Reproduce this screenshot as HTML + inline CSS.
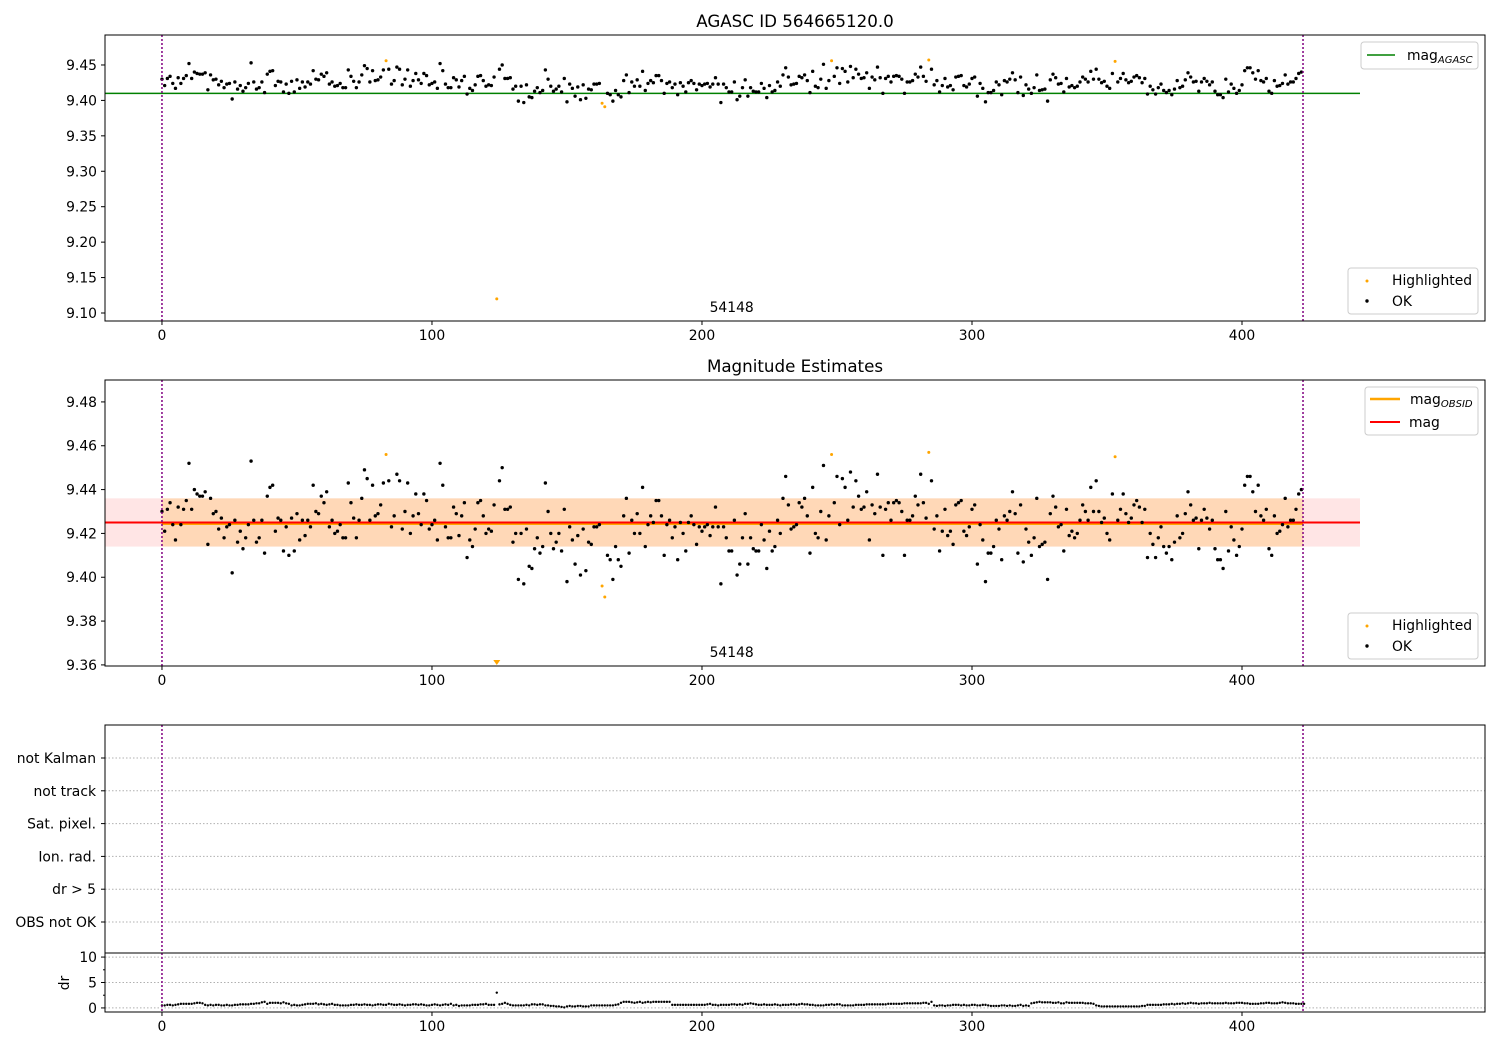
<!DOCTYPE html>
<html><head><meta charset="utf-8">
<style>
html,body{margin:0;padding:0;background:#fff;}
svg{display:block;font-family:"DejaVu Sans","Liberation Sans",sans-serif;}
</style></head>
<body>
<svg id="chart" width="1500" height="1050" viewBox="0 0 1500 1050" xmlns="http://www.w3.org/2000/svg">
<rect x="0" y="0" width="1500" height="1050" fill="#fff"/>
</svg>
<script>
const mags = [9.430,9.421,9.431,9.434,9.424,9.417,9.432,9.424,9.431,9.435,
9.452,9.431,9.440,9.438,9.437,9.437,9.439,9.415,9.436,9.429,
9.430,9.422,9.427,9.418,9.423,9.424,9.402,9.426,9.416,9.421,
9.413,9.418,9.424,9.453,9.426,9.416,9.418,9.426,9.411,9.437,
9.441,9.442,9.421,9.427,9.426,9.412,9.423,9.410,9.427,9.412,
9.429,9.417,9.426,9.419,9.426,9.423,9.442,9.430,9.429,9.437,
9.434,9.439,9.423,9.426,9.420,9.421,9.424,9.418,9.418,9.443,
9.434,9.427,9.418,9.426,9.436,9.449,9.445,9.426,9.442,9.428,
9.429,9.433,9.443,9.456,9.444,9.423,9.428,9.447,9.444,9.422,
9.430,9.443,9.420,9.428,9.438,9.429,9.424,9.438,9.435,9.422,
9.424,9.426,9.417,9.452,9.442,9.423,9.418,9.418,9.432,9.429,
9.419,9.428,9.434,9.409,9.417,9.414,9.422,9.434,9.435,9.428,
9.420,9.422,9.421,9.433,9.120,9.444,9.450,9.431,9.431,9.432,
9.416,9.420,9.399,9.420,9.397,9.422,9.405,9.404,9.413,9.418,
9.411,9.414,9.443,9.430,9.420,9.413,9.416,9.420,9.412,9.431,
9.398,9.423,9.417,9.406,9.419,9.401,9.422,9.403,9.416,9.415,
9.423,9.423,9.424,9.396,9.391,9.410,9.408,9.399,9.414,9.408,
9.405,9.428,9.436,9.411,9.426,9.420,9.429,9.420,9.441,9.414,
9.424,9.428,9.425,9.435,9.435,9.428,9.410,9.424,9.426,9.418,
9.423,9.408,9.425,9.420,9.412,9.425,9.428,9.424,9.415,9.423,
9.421,9.423,9.424,9.419,9.423,9.432,9.423,9.397,9.423,9.418,
9.412,9.412,9.426,9.401,9.406,9.418,9.429,9.406,9.418,9.413,
9.412,9.412,9.424,9.417,9.404,9.421,9.412,9.414,9.426,9.420,
9.436,9.446,9.433,9.422,9.423,9.424,9.434,9.432,9.436,9.428,
9.411,9.441,9.420,9.418,9.430,9.451,9.417,9.428,9.456,9.434,
9.446,9.424,9.445,9.441,9.426,9.448,9.432,9.444,9.437,9.431,
9.432,9.439,9.417,9.433,9.429,9.447,9.432,9.410,9.431,9.434,
9.426,9.434,9.435,9.434,9.430,9.410,9.426,9.426,9.428,9.437,
9.433,9.447,9.434,9.427,9.457,9.444,9.422,9.428,9.412,9.421,
9.431,9.419,9.421,9.415,9.433,9.434,9.435,9.421,9.419,9.423,
9.431,9.433,9.406,9.424,9.417,9.398,9.411,9.411,9.414,9.426,
9.422,9.408,9.428,9.426,9.430,9.439,9.429,9.411,9.433,9.407,
9.422,9.416,9.410,9.418,9.436,9.414,9.415,9.416,9.399,9.429,
9.437,9.432,9.423,9.424,9.412,9.431,9.419,9.421,9.418,9.420,
9.426,9.433,9.430,9.426,9.441,9.430,9.444,9.430,9.425,9.427,
9.420,9.417,9.438,9.455,9.426,9.431,9.438,9.429,9.425,9.427,
9.433,9.435,9.432,9.425,9.431,9.409,9.420,9.415,9.409,9.418,
9.423,9.414,9.411,9.414,9.408,9.416,9.428,9.418,9.420,9.429,
9.439,9.433,9.426,9.427,9.413,9.426,9.431,9.427,9.422,9.426,
9.413,9.408,9.408,9.404,9.430,9.412,9.423,9.417,9.410,9.414,
9.422,9.442,9.446,9.446,9.439,9.430,9.442,9.428,9.426,9.431,
9.413,9.410,9.428,9.420,9.421,9.424,9.436,9.423,9.426,9.426,
9.431,9.438,9.440];
const highlighted = [83,124,163,164,248,284,353];
const drValues = [0.5,0.5,0.6,0.6,0.5,0.6,0.7,0.8,0.8,0.8,0.8,0.8,0.9,1.0,1.0,0.9,0.6,
0.5,0.6,0.5,0.6,0.6,0.5,0.5,0.6,0.5,0.5,0.6,0.6,0.7,0.7,0.7,0.7,0.8,0.8,0.9,0.9,1.1,1.2,0.8,
1.0,1.0,1.0,1.0,0.9,1.1,0.9,0.8,
0.5,0.6,0.5,0.5,0.6,0.7,0.8,0.8,0.8,0.9,0.7,0.8,0.7,0.6,0.7,0.8,0.6,0.6,0.5,0.5,0.5,0.5,0.6,0.6,0.7,0.6,0.6,0.7,0.6,0.6,0.5,0.6,0.7,0.7,0.6,0.6,0.8,0.7,0.6,0.6,0.7,0.6,0.5,0.6,0.6,0.7,0.7,0.6,0.7,0.6,0.5,0.5,0.6,0.7,0.6,0.5,0.6,0.7,0.6,0.8,0.5,0.6,
0.4,0.5,0.5,0.5,0.5,0.6,0.6,0.6,0.7,0.7,0.8,0.6,0.6,0.6,
3.0,
0.7,0.8,1.0,0.8,0.6,0.5,0.5,0.5,0.5,0.5,0.6,0.5,0.7,0.7,0.6,0.7,0.7,0.5,0.5,0.4,0.4,0.3,0.3,0.2,0.1,0.3,0.4,0.3,0.3,0.4,0.4,0.3,0.3,0.3,0.5,0.5,0.5,0.5,0.5,0.5,0.5,0.5,0.5,0.6,0.7,
1.0,1.2,1.2,1.2,1.1,1.0,1.1,1.2,1.0,1.1,1.2,1.1,1.2,1.2,1.2,1.2,1.2,1.2,1.2,
0.6,0.6,0.6,0.6,0.6,0.6,0.6,0.6,0.6,0.6,0.6,0.6,0.6,0.7,0.8,0.6,0.6,0.5,0.6,0.6,0.6,0.6,0.7,0.7,0.6,0.7,0.6,0.8,0.8,0.9,0.8,0.7,0.6,0.6,0.7,0.6,0.6,0.6,0.7,0.6,0.5,0.6,0.6,0.6,0.7,0.7,0.6,
0.7,0.8,0.7,0.7,0.6,0.6,0.5,0.5,0.5,0.5,0.6,0.6,0.7,0.6,0.7,0.7,0.5,0.5,0.5,0.5,0.5,0.6,0.6,0.6,0.6,0.7,0.7,0.7,0.7,0.7,0.7,0.7,0.7,0.8,0.8,0.8,0.8,0.8,0.8,0.9,0.9,0.9,0.9,0.9,0.9,0.9,1.0,1.0,0.8,1.2,
0.5,0.4,0.5,0.5,0.4,0.5,0.5,0.6,0.6,0.6,0.5,0.6,0.5,0.5,0.6,0.6,0.5,0.5,0.6,0.6,0.5,0.4,0.4,0.4,0.4,0.5,0.5,0.4,0.5,0.4,0.4,0.5,0.6,0.4,0.5,0.4,
0.9,1.0,1.1,1.2,1.1,1.1,1.1,1.1,1.0,1.0,1.1,0.9,0.9,1.1,1.0,1.0,1.0,1.0,1.0,1.0,0.9,0.9,0.9,0.8,
0.5,0.4,0.3,0.3,0.3,0.3,0.3,0.3,0.3,0.3,0.3,0.3,0.3,0.3,0.3,0.3,0.3,0.4,0.4,
0.6,0.6,0.6,0.6,0.6,0.6,0.7,0.7,0.7,0.8,0.7,0.8,0.8,0.9,0.8,0.9,1.0,0.9,0.9,0.8,0.9,0.9,0.9,1.0,0.9,0.9,0.9,0.9,0.9,1.0,0.9,0.9,0.9,1.0,1.0,1.0,0.9,0.9,0.8,0.8,0.8,0.8,
0.9,0.9,1.0,1.0,0.9,0.9,0.9,1.0,1.1,1.0,0.9,0.9,0.9,0.8,0.8,0.8,0.8];
const xTicks = [0,100,200,300,400];
const y1Ticks = [9.10,9.15,9.20,9.25,9.30,9.35,9.40,9.45];
const y2Ticks = [9.36,9.38,9.40,9.42,9.44,9.46,9.48];
const flagLabels = ["not Kalman","not track","Sat. pixel.","Ion. rad.","dr > 5","OBS not OK"];
const drTicks = [0,5,10];
const agascMag = [9.41];
const meanMag = [9.425];
const magBand = [9.414, 9.436];
const obsidLabel = ["54148"];

const NS = "http://www.w3.org/2000/svg";
const svg = document.getElementById("chart");
const FS = 13.9;
function mk(tag, attrs, parent){
  const e = document.createElementNS(NS, tag);
  for (const k in attrs) e.setAttribute(k, attrs[k]);
  (parent||svg).appendChild(e);
  return e;
}
const X0 = 105, X1 = 1485, XMIN = -21.1, XMAX = 490;
function xs(v){ return X0 + (v - XMIN) / (XMAX - XMIN) * (X1 - X0); }
function yScale(top, bottom, vmin, vmax){ return v => bottom - (v - vmin) / (vmax - vmin) * (bottom - top); }
const P1 = {top:35,bottom:321}, P2 = {top:380,bottom:666}, P3 = {top:725,bottom:953}, P4 = {top:953,bottom:1012};
const y1 = yScale(P1.top, P1.bottom, 9.0887, 9.4923);
const y2 = yScale(P2.top, P2.bottom, 9.3595, 9.4900);
const y4 = yScale(P4.top, P4.bottom, -0.8, 10.8);
const nPts = mags.length;
const lastX = nPts - 0.4;

function txt(x, y, s, attrs, name){
  const t = mk("text", Object.assign({x:x, y:y, "font-size":FS, fill:"#000"}, attrs||{}));
  t.textContent = s;
  
  
  return t;
}
function frame(p, name){
  const r = mk("rect", {x:X0, y:p.top, width:X1-X0, height:p.bottom-p.top, fill:"none", stroke:"#000", "stroke-width":1});
  
  
}
function xAxis(p, labels, name){
  const g = mk("g", {});
  
  
  xTicks.forEach(v => {
    mk("line", {x1:xs(v), x2:xs(v), y1:p.bottom, y2:p.bottom+4, stroke:"#000"}, g);
    if (labels) {
      const t = mk("text", {x:xs(v), y:p.bottom+19, "font-size":FS, "text-anchor":"middle"}, g);
      t.textContent = v;
    }
  });
}
function yAxis(p, ticks, ys, fmt, name){
  const g = mk("g", {});
  
  
  ticks.forEach(v => {
    mk("line", {x1:X0-4, x2:X0, y1:ys(v), y2:ys(v), stroke:"#000"}, g);
    const t = mk("text", {x:X0-8, y:ys(v)+5, "font-size":FS, "text-anchor":"end"}, g);
    t.textContent = fmt(v);
  });
}
function vlines(p, name){
  [0, lastX].forEach(v => {
    const l = mk("line", {x1:xs(v), x2:xs(v), y1:p.top, y2:p.bottom, stroke:"#800080", "stroke-width":1.5, "stroke-dasharray":"2,2"});
    
    
  });
}
function points(ys, p, name){
  const g = mk("g", {});
  
  
  mags.forEach((m, i) => {
    const hl = highlighted.indexOf(i) >= 0;
    let y = ys(m);
    if (y > p.bottom) {
      const cx = xs(i);
      const tri = mk("polygon", {points:`${cx-3.5},${p.bottom-6} ${cx+3.5},${p.bottom-6} ${cx},${p.bottom-1}`, fill:"orange"}, g);
      
      
      return;
    }
    const c = mk("circle", {cx:xs(i), cy:y, r: hl ? 1.5 : 1.7, fill: hl ? "orange" : "#000"}, g);
    
    
  });
}
function legendBox(x, y, w, h, name){
  const r = mk("rect", {x:x, y:y, width:w, height:h, rx:3, fill:"#fff", "fill-opacity":0.8, stroke:"#ccc"});
  
  
}
function subLabel(x, y, main, sub, name){
  const t = mk("text", {x:x, y:y, "font-size":FS});
  
  
  t.textContent = main;
  const s = mk("tspan", {"font-size":10, "font-style":"italic", dy:3}, t);
  s.textContent = sub;
}

/* ---------- Panel 1 ---------- */
txt(795, 27, "AGASC ID 564665120.0", {"font-size":16.7, "text-anchor":"middle"}, "top-panel-title");
const gl = mk("line", {x1:X0, x2:1360, y1:y1(agascMag[0]), y2:y1(agascMag[0]), stroke:"green", "stroke-width":1.5});


points(y1, P1, "top-panel-points");
vlines(P1, "obsid-boundary-line");
txt(xs(211), P1.bottom-9, obsidLabel[0], {"text-anchor":"middle"}, "obsid-label");
frame(P1, "top-panel-frame");
xAxis(P1, true, "top-panel-x-axis");
yAxis(P1, y1Ticks, y1, v => v.toFixed(2), "top-panel-y-axis");
legendBox(1361, 42, 117, 27, "top-panel-line-legend");
mk("line", {x1:1367, x2:1395, y1:55, y2:55, stroke:"green", "stroke-width":1.5});
subLabel(1407, 60, "mag", "AGASC", "legend-entry-mag-agasc");
legendBox(1348, 268, 130, 46, "top-panel-points-legend");
mk("circle", {cx:1367, cy:281, r:1.5, fill:"orange"});
txt(1392, 285, "Highlighted", {}, "legend-entry-highlighted");
mk("circle", {cx:1367, cy:301, r:1.7, fill:"#000"});
txt(1392, 306, "OK", {}, "legend-entry-ok");

/* ---------- Panel 2 ---------- */
txt(795, 372, "Magnitude Estimates", {"font-size":16.7, "text-anchor":"middle"}, "middle-panel-title");
const pb = mk("rect", {x:X0, y:y2(magBand[1]), width:1360-X0, height:y2(magBand[0])-y2(magBand[1]), fill:"#ff0000", "fill-opacity":0.1});


const ob = mk("rect", {x:xs(0), y:y2(magBand[1]), width:xs(lastX)-xs(0), height:y2(magBand[0])-y2(magBand[1]), fill:"#ffa500", "fill-opacity":0.2});


const ol = mk("line", {x1:xs(0), x2:xs(lastX), y1:y2(meanMag[0])+1.5, y2:y2(meanMag[0])+1.5, stroke:"orange", "stroke-width":2});


const rl = mk("line", {x1:X0, x2:1360, y1:y2(meanMag[0]), y2:y2(meanMag[0]), stroke:"red", "stroke-width":2});


points(y2, P2, "middle-panel-points");
vlines(P2, "obsid-boundary-line");
txt(xs(211), P2.bottom-9, obsidLabel[0], {"text-anchor":"middle"}, "obsid-label");
frame(P2, "middle-panel-frame");
xAxis(P2, true, "middle-panel-x-axis");
yAxis(P2, y2Ticks, y2, v => v.toFixed(2), "middle-panel-y-axis");
legendBox(1365, 387, 113, 48, "middle-panel-line-legend");
mk("line", {x1:1370, x2:1400, y1:399, y2:399, stroke:"orange", "stroke-width":2.5});
subLabel(1410, 404, "mag", "OBSID", "legend-entry-mag-obsid");
mk("line", {x1:1370, x2:1400, y1:422, y2:422, stroke:"red", "stroke-width":2});
txt(1409, 427, "mag", {}, "legend-entry-mag");
legendBox(1348, 613, 130, 46, "middle-panel-points-legend");
mk("circle", {cx:1367, cy:626, r:1.5, fill:"orange"});
txt(1392, 630, "Highlighted", {}, "legend-entry-highlighted");
mk("circle", {cx:1367, cy:646, r:1.7, fill:"#000"});
txt(1392, 651, "OK", {}, "legend-entry-ok");

/* ---------- Panel 3: flags ---------- */
const flagY = i => 758 + i * 32.8;
flagLabels.forEach((lab, i) => {
  const l = mk("line", {x1:X0, x2:X1, y1:flagY(i), y2:flagY(i), stroke:"#b0b0b0", "stroke-dasharray":"1.5,2"});
  
  
  mk("line", {x1:X0-4, x2:X0, y1:flagY(i), y2:flagY(i), stroke:"#000"});
  txt(X0-9, flagY(i)+5, lab, {"text-anchor":"end"}, "flag-label");
});
vlines(P3, "obsid-boundary-line");
frame(P3, "flags-panel-frame");

/* ---------- Panel 4: dr ---------- */
drTicks.forEach(v => {
  const l = mk("line", {x1:X0, x2:X1, y1:y4(v), y2:y4(v), stroke:"#b0b0b0", "stroke-dasharray":"1.5,2"});
  
  
});
[2.5, 7.5].forEach(v => mk("line", {x1:X0-2, x2:X0, y1:y4(v), y2:y4(v), stroke:"#000"}));
const gdr = mk("g", {});


drValues.forEach((d, i) => {
  const c = mk("circle", {cx:xs(i), cy:y4(d), r:1.2, fill:"#000"}, gdr);
  
  
});
vlines(P4, "obsid-boundary-line");
frame(P4, "dr-panel-frame");
xAxis(P4, true, "dr-panel-x-axis");
yAxis(P4, drTicks, y4, v => String(v), "dr-panel-y-axis");
txt(69, 983, "dr", {"text-anchor":"middle", transform:"rotate(-90 69 983)"}, "dr-axis-title");
</script>
</body></html>
